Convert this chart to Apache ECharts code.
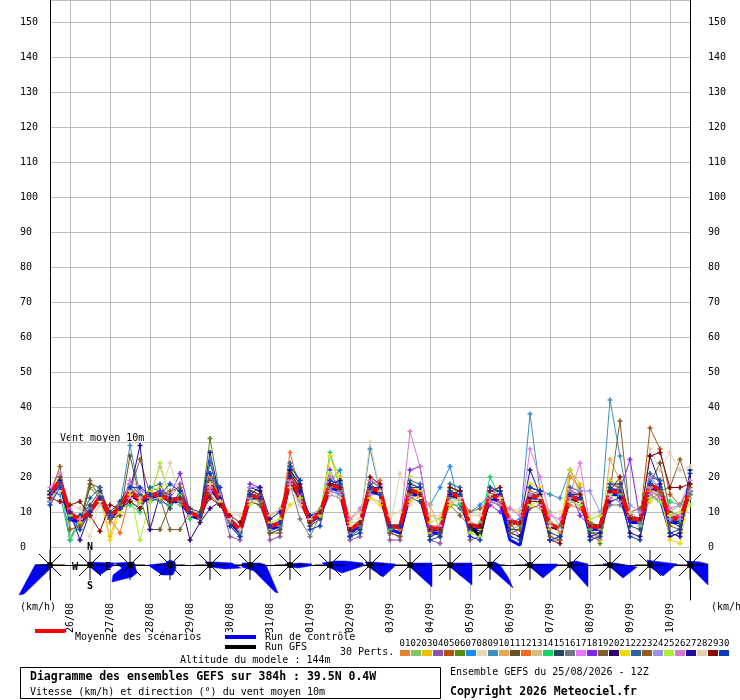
<!DOCTYPE html>
<html>
<head>
<meta charset="utf-8">
<title>Ensembles GEFS - vent moyen 10m</title>
<script src="https://cdn.jsdelivr.net/npm/echarts@6/dist/echarts.min.js"></script>
<style>
    html, body { margin: 0; padding: 0; background: #fff; }
    #main { width: 740px; height: 700px; }
</style>
</head>
<body>
<div id="main"></div>
<script>
// echeances toutes les 6h, du 25/08 12Z au 10/09 12Z
var hours = [];
for (var h = 0; h <= 384; h += 6) hours.push(h);

var dayLabels = ['26/08', '27/08', '28/08', '29/08', '30/08', '31/08', '01/09', '02/09',
    '03/09', '04/09', '05/09', '06/09', '07/09', '08/09', '09/09', '10/09'];

var pertColors = ['#e6822e', '#88c46a', '#f0c000', '#8e52aa', '#b4500a', '#5a8a0a', '#1e88f5', '#e8d8b4',
    '#3c90c0', '#e8a852', '#6a5020', '#f56a1e', '#d2c080', '#10d862', '#28465e', '#6e7880',
    '#e878f0', '#8024f0', '#806030', '#300070', '#f0d800', '#28649e', '#905a20', '#9c8ee8',
    '#a8f032', '#d878d0', '#200ca0', '#e0d0b0', '#880808', '#0a3cbe'];

// vitesse (km/h) des 30 perturbations
var p01 = [14,20,10,6,9,16,7,12, 17,15,13,16,12,15,11,9, 19,14,8,5,15,13,6,7, 21,15,8,10,18,17,5,7, 18,16,6,5,16,14,5,6, 16,15,7,6,14,13,8,7, 16,15,7,4,20,17,2,3, 19,17,9,8,17,15,9,9, 16];
var p02 = [16,18,3,6,11,15,9,10, 14,12,16,14,13,12,10,8, 17,12,8,4,16,15,5,6, 19,14,9,11,17,15,4,6, 16,15,5,6,17,16,6,4, 14,13,5,7,15,14,5,6, 13,14,10,6,13,12,7,5, 15,14,8,6,16,15,10,12, 14];
var p03 = [15,19,9,5,10,14,3,12, 15,14,16,17,14,13,10,9, 18,13,7,5,14,14,6,7, 18,14,6,9,26,20,4,7, 17,15,6,5,15,16,4,5, 16,14,6,5,14,13,7,6, 14,15,5,6,22,18,4,3, 16,16,8,7,18,17,7,9, 15];
var p04 = [13,18,10,8,11,15,9,11, 17,14,15,16,14,18,10,8, 19,14,3,2,16,15,2,3, 20,15,8,10,18,17,2,3, 17,15,2,2,16,15,2,1, 15,15,2,3,15,15,8,7, 15,14,2,2,15,14,3,2, 15,16,9,8,17,16,8,9, 16];
var p05 = [16,19,10,7,10,13,8,11, 16,12,14,15,13,14,10,9, 18,14,8,5,15,14,6,6, 20,14,7,10,17,18,5,6, 17,17,6,5,15,14,5,3, 14,15,4,6,15,13,6,7, 14,15,6,5,14,14,6,6, 17,15,9,8,34,28,15,12, 17];
var p06 = [15,19,9,7,17,14,8,12, 16,13,15,14,13,14,10,9, 31,15,8,5,15,14,6,7, 20,14,7,9,18,17,5,7, 17,16,5,6,16,15,5,5, 16,14,6,6,15,14,7,7, 14,14,6,5,14,13,6,1, 16,16,8,8,18,16,8,7, 16];
var p07 = [14,18,10,8,9,15,9,13, 17,14,15,15,13,13,9,9, 20,14,7,4,15,14,6,7, 21,15,7,10,19,22,5,6, 17,16,5,6,16,15,12,17, 23,11,10,12,15,13,7,8, 15,16,7,5,15,14,5,6, 16,17,8,8,19,17,8,9, 16];
var p08 = [14,17,8,7,3,13,9,10, 14,12,13,14,16,15,9,8, 17,13,10,9,14,13,9,10, 19,13,8,10,16,16,9,8, 17,15,9,10,15,14,9,9, 14,13,10,9,14,14,10,11, 13,13,9,10,13,12,9,10, 15,15,9,8,16,16,9,8, 15];
var p09 = [16,15,2,9,11,14,9,12, 29,15,14,13,12,14,10,8, 25,13,8,5,14,14,6,6, 19,14,8,9,18,16,5,7, 28,16,6,6,16,15,5,5, 14,14,6,6,14,15,7,7, 38,16,15,14,22,16,6,6, 42,26,10,8,17,16,9,8, 15];
var p10 = [15,19,9,8,10,14,9,11, 16,14,15,14,14,14,9,9, 18,13,8,5,15,14,6,7, 20,14,7,10,18,17,5,7, 17,15,6,6,16,15,12,5, 15,14,6,6,14,14,7,7, 14,14,7,6,14,13,5,2, 25,19,8,7,17,16,8,8, 16];
var p11 = [15,20,9,6,18,17,8,9, 26,14,5,5,12,14,10,8, 19,14,8,5,16,15,6,7, 20,15,7,10,18,17,5,6, 17,16,6,5,17,15,5,6, 15,14,6,6,15,14,7,7, 15,14,6,5,14,13,6,6, 16,16,8,8,18,24,10,9, 16];
var p12 = [15,19,10,8,10,14,8,4, 15,13,14,15,14,13,10,9, 20,15,8,5,15,14,6,7, 27,16,7,10,19,18,5,7, 18,19,6,5,16,15,6,6, 16,14,7,6,17,13,7,7, 15,14,6,6,12,11,6,6, 16,16,8,8,16,14,8,8, 16];
var p13 = [15,18,9,8,10,15,9,11, 16,13,15,23,14,13,10,9, 17,13,8,5,13,12,9,11, 20,14,8,9,17,16,8,10, 14,13,6,6,18,15,9,8, 15,14,7,6,15,14,11,10, 12,11,6,6,14,13,8,9, 14,16,9,8,17,16,9,8, 15];
var p14 = [15,19,2,7,10,14,9,11, 12,10,17,16,12,15,8,10, 18,13,7,4,15,14,6,6, 23,16,7,9,27,17,5,5, 17,16,5,6,16,15,5,5, 12,12,6,6,20,14,7,7, 15,14,6,5,14,13,5,6, 15,15,8,8,17,16,13,12, 15];
var p15 = [13,17,8,9,12,16,10,13, 18,15,13,14,11,16,11,10, 21,15,6,3,13,12,4,5, 22,16,6,8,16,15,3,5, 19,17,4,3,14,13,3,4, 17,16,5,4,13,12,5,5, 17,16,4,3,16,15,4,4, 18,18,6,5,20,19,7,6, 18];
var p16 = [14,18,9,8,10,14,8,11, 15,13,14,14,13,13,10,8, 17,12,7,4,15,13,6,6, 18,8,3,9,17,16,4,6, 16,15,6,6,15,15,5,5, 13,11,6,6,14,14,7,6, 17,16,6,5,14,13,6,6, 12,12,8,7,14,15,8,8, 15];
var p17 = [17,21,11,8,10,14,9,12, 14,16,15,15,14,14,10,9, 16,13,8,5,15,14,6,7, 18,15,7,10,18,17,5,7, 19,18,6,6,16,15,5,6, 15,14,6,6,15,14,8,7, 28,20,9,8,15,24,6,6, 16,17,9,8,20,17,9,9, 16];
var p18 = [14,18,9,8,10,14,9,11, 16,14,15,16,15,21,10,9, 18,14,8,5,18,17,6,7, 20,15,7,10,22,15,5,7, 17,16,6,6,22,23,6,5, 15,14,6,6,12,10,7,7, 14,14,6,5,16,9,6,6, 16,16,25,8,18,16,8,8, 16];
var p19 = [16,19,10,7,19,14,8,12, 16,13,15,14,5,5,10,9, 15,12,8,5,15,14,6,7, 17,14,7,10,18,17,5,7, 17,16,6,6,14,15,5,5, 12,9,6,6,15,14,7,3, 15,14,6,6,14,13,7,6, 16,36,9,8,18,16,17,25, 16];
var p20 = [15,19,9,8,10,14,9,11, 16,14,15,15,13,14,2,7, 11,13,8,5,17,16,6,7, 22,18,7,9,15,14,3,7, 17,15,6,6,16,15,5,5, 15,14,6,6,16,16,4,3, 14,14,6,5,14,13,6,6, 13,14,4,3,15,13,3,4, 16];
var p21 = [15,19,9,7,10,14,2,10, 15,13,15,14,13,14,10,9, 18,13,8,5,15,14,6,7, 12,14,7,9,26,18,5,7, 14,12,6,6,13,15,5,5, 12,14,6,6,15,14,7,7, 18,17,6,5,22,15,6,6, 19,16,8,8,13,16,2,1, 16];
var p22 = [16,18,9,8,14,17,9,11, 13,11,17,18,13,14,10,9, 24,14,8,5,15,14,6,7, 24,19,7,10,18,17,5,7, 18,16,6,6,19,18,5,5, 18,17,6,6,15,14,7,7, 17,16,6,5,17,16,6,6, 18,17,8,8,21,19,8,8, 16];
var p23 = [15,23,5,6,10,14,9,11, 16,25,15,15,16,17,10,9, 18,13,8,5,13,12,4,4, 20,14,7,10,18,17,5,7, 15,17,4,3,16,15,5,5, 15,14,10,11,13,12,4,5, 11,12,3,2,14,13,6,6, 16,16,10,11,18,16,6,5, 16];
var p24 = [13,17,10,8,10,14,9,11, 18,16,15,15,14,14,10,9, 16,14,8,5,17,17,6,7, 18,13,7,10,16,15,5,7, 15,15,6,6,14,15,5,5, 15,14,6,6,16,15,7,7, 15,14,6,5,14,16,16,10, 14,13,12,10,15,13,8,8, 16];
var p25 = [15,19,9,8,10,14,9,11, 16,2,13,24,14,14,10,9, 18,13,8,5,12,14,7,8, 20,14,7,10,21,19,7,7, 17,15,6,6,20,15,7,8, 17,15,4,3,15,14,7,7, 12,13,6,5,13,12,8,9, 16,16,8,8,14,13,9,10, 12];
var p26 = [15,17,10,8,10,14,9,11, 19,17,15,15,13,14,10,9, 17,15,8,5,15,14,6,7, 19,12,7,10,20,18,8,11, 17,15,6,6,33,23,5,5, 15,14,6,6,13,12,11,9, 15,12,6,5,16,14,6,6, 16,16,8,8,17,14,11,12, 19];
var p27 = [15,19,10,2,10,14,9,11, 16,29,5,15,14,14,10,9, 27,14,8,5,15,17,8,10, 20,16,9,10,18,19,5,7, 17,17,6,6,18,17,5,5, 15,16,6,6,15,15,7,7, 22,15,6,5,13,14,3,4, 16,14,8,8,26,18,4,3, 22];
var p28 = [14,16,12,11,8,12,9,11, 16,14,15,15,24,14,10,9, 18,13,8,5,13,14,6,7, 17,12,7,10,15,14,6,7, 30,16,6,21,12,15,5,5, 13,14,9,9,15,14,7,7, 13,14,6,5,13,13,6,6, 15,16,10,8,28,22,27,22, 23];
var p29 = [14,13,12,13,9,4.5,12,11, 13,11,15,15,13,14,10,9, 14,12,9,7,15,14,6,7, 21,17,7,10,18,17,5,7, 20,18,6,6,16,15,5,5, 17,16,6,6,16,17,7,7, 13,13,2,1,15,15,6,6, 16,20,8,8,26,27,17,17, 18];
var p30 = [12,17,8,5,10,14,9,11, 17,17,15,15,18,16,10,9, 21,17,6,3,15,14,6,7, 23,19,5,6,19,18,3,4, 17,15,6,6,17,17,2,3, 16,15,3,2,17,16,3,2, 17,16,2,3,15,14,2,3, 17,16,3,2,18,17,4,5, 21];

var perts = [p01, p02, p03, p04, p05, p06, p07, p08, p09, p10, p11, p12, p13, p14, p15,
    p16, p17, p18, p19, p20, p21, p22, p23, p24, p25, p26, p27, p28, p29, p30];

var controle = [15,18,8,7,10,14,8,11, 15,13,14,15,13,13,9,8, 17,13,7,4,14,14,5,6, 19,14,7,9,17,16,4,6, 16,15,5,4,15,15,4,4, 15,14,5,5,14,13,2,0.5, 14,14,6,5,14,13,5,5, 15,15,7,7,17,16,7,7, 16];
var gfs = [15,19,9,8,10,14,9,11, 16,13,15,15,13,14,10,8, 18,13,8,5,15,14,6,7, 19,14,7,10,18,17,5,7, 17,15,6,6,16,15,5,5, 15,14,6,3,15,14,7,7, 15,14,6,5,14,13,6,6, 16,16,8,8,18,16,8,8, 16];
var moyenne = [15.3,19,9.5,7.7,10,14.4,8.7,11.5, 15.8,13.4,14.9,15,13.4,13.8,9.7,8.7, 18.3,13.4,7.7,4.9,14.9,14,5.8,6.8,
    19.7,14.4,7.2,9.7,17.7,16.8,4.9,6.8, 17,15.8,5.8,5.8,16.3,15.3,5.3,5.3, 15.3,14.4,6.3,5.8,14.9,14,7.2,6.8,
    14.5,14.4,6.3,5.3,14.4,13.4,5.8,5.8, 15.8,15.8,8.2,7.7,17.7,16.3,8.2,8.2, 15.8];

// roses des vents a 12Z : sommets [u est, v nord] en km/h
var roseSteps = [0, 4, 8, 12, 16, 20, 24, 28, 32, 36, 40, 44, 48, 52, 56, 60, 64];
var roseShapes = [
    [[2,1],[-15,0],[-31,-30],[-26,-29],[2,-2]],
    [[-2,3],[25,2],[23,-1],[10,-10],[0,-2]],
    [[-15,2],[4,3],[7,-8],[2,-12],[-18,-17],[-17,-10],[-8,-3]],
    [[-22,0],[-5,2],[0,5],[5,3],[6,-3],[3,-10],[-8,-10]],
    [[-5,3],[5,3],[22,2],[31,-3],[15,-4],[0,-2]],
    [[-8,2],[10,2],[16,0],[28,-28],[25,-27],[4,-6],[-8,-2]],
    [[-5,1],[10,2],[22,1],[20,-1],[8,-3],[0,-2]],
    [[-8,2],[5,4],[15,4],[33,2],[33,-1],[12,-8],[0,-3]],
    [[-5,3],[3,3],[25,1],[25,-1],[13,-12],[0,-3]],
    [[0,2],[22,2],[22,-22],[0,-2]],
    [[0,2],[22,2],[22,-20],[0,-2]],
    [[-2,3],[5,3],[10,0],[18,-12],[23,-23],[0,-3]],
    [[-5,1],[27,1],[27,-1],[13,-13],[0,-2]],
    [[0,3],[6,4],[18,1],[18,-22],[0,-2]],
    [[-7,1],[5,2],[27,-2],[13,-13],[0,-2]],
    [[-3,5],[3,4],[27,1],[13,-11],[0,-2]],
    [[-3,4],[10,3],[18,1],[18,-20],[0,-2]]
];

var FONT = '"DejaVu Sans Mono", monospace';
var GRID_COLOR = '#bdbdbd';
var plusSymbol = 'path://M1,0h1v1h1v1h-1v1h-1v-1h-1v-1h1z';

var myChart = echarts.init(document.getElementById('main'), null, { renderer: 'canvas' });

function dayTick(index) {
    return index % 4 === 2;
}

var series = [];
perts.forEach(function (p, k) {
    series.push({
        name: 'P' + (k + 1),
        type: 'line',
        xAxisIndex: 0,
        yAxisIndex: 0,
        data: p,
        symbol: plusSymbol,
        symbolSize: 5,
        showAllSymbol: true,
        silent: true,
        lineStyle: { color: pertColors[k], width: 1 },
        itemStyle: { color: pertColors[k] }
    });
});
series.push({
    name: 'Run de contrôle', type: 'line', data: controle, symbol: 'none', silent: true,
    lineStyle: { color: '#0000ff', width: 3 }
});
series.push({
    name: 'Run GFS', type: 'line', data: gfs, symbol: 'none', silent: true,
    lineStyle: { color: '#000000', width: 3 }
});
series.push({
    name: 'Moyenne des scénarios', type: 'line', data: moyenne, symbol: 'none', silent: true,
    lineStyle: { color: '#ff0000', width: 4 }
});

// roses des vents dans le bandeau du bas
series.push({
    type: 'custom',
    xAxisIndex: 1,
    yAxisIndex: 2,
    silent: true,
    clip: false,
    data: roseSteps.map(function (s) { return [s, 0]; }),
    renderItem: function (params, api) {
        var c = api.coord([api.value(0), 0]);
        var k = api.size([0, 1])[1];
        var shape = roseShapes[params.dataIndex];
        var pts = shape.map(function (p) { return [c[0] + p[0] * k, c[1] - p[1] * k]; });
        var children = [{
            type: 'polygon',
            shape: { points: pts },
            style: { fill: '#0000ff', stroke: '#0000ff', lineWidth: 0.5 }
        }];
        var r = 15, d = 11;
        var spokes = [[-r, 0, r, 0], [0, -r, 0, r], [-d, -d, d, d], [-d, d, d, -d]];
        spokes.forEach(function (s) {
            children.push({
                type: 'line',
                shape: { x1: c[0] + s[0], y1: c[1] + s[1], x2: c[0] + s[2], y2: c[1] + s[3] },
                style: { stroke: '#000', lineWidth: 1 }
            });
        });
        children.push({
            type: 'circle',
            shape: { cx: c[0], cy: c[1], r: 3 },
            style: { fill: '#000' }
        });
        if (params.dataIndex === 1) {
            var letters = [['N', 0, -18], ['S', 0, 21], ['W', -15, 2], ['E', 18, 2]];
            letters.forEach(function (l) {
                children.push({
                    type: 'text',
                    style: {
                        text: l[0], x: c[0] + l[1], y: c[1] + l[2],
                        font: 'bold 10px ' + FONT, fill: '#000',
                        align: 'center', verticalAlign: 'middle',
                        textAlign: 'center', textVerticalAlign: 'middle'
                    }
                });
            });
        }
        return { type: 'group', children: children };
    }
});

function txt(x, y, text, font, align) {
    return {
        type: 'text',
        silent: true,
        style: {
            text: text, x: x, y: y, font: font, fill: '#000',
            align: align || 'left', verticalAlign: 'middle',
            textAlign: align || 'left', textVerticalAlign: 'middle'
        }
    };
}

var graphics = [
    txt(60, 438, 'Vent moyen 10m', '10px ' + FONT),
    txt(20, 607, '(km/h)', '10px ' + FONT),
    txt(711, 607, '(km/h)', '10px ' + FONT),
    { type: 'rect', silent: true, shape: { x: 35, y: 629, width: 30, height: 4 }, style: { fill: '#ff0000' } },
    txt(75, 637, 'Moyenne des scénarios', '10px ' + FONT),
    { type: 'rect', silent: true, shape: { x: 225, y: 635, width: 31, height: 4 }, style: { fill: '#0000ff' } },
    txt(265, 637, 'Run de contrôle', '10px ' + FONT),
    { type: 'rect', silent: true, shape: { x: 225, y: 645, width: 31, height: 4 }, style: { fill: '#000000' } },
    txt(265, 647, 'Run GFS', '10px ' + FONT),
    txt(340, 652, '30 Perts.', '10px ' + FONT),
    txt(180, 660, 'Altitude du modele : 144m', '10px ' + FONT),
    { type: 'rect', silent: true, shape: { x: 20.5, y: 667.5, width: 420, height: 31 },
        style: { fill: 'none', stroke: '#000', lineWidth: 1 } },
    txt(30, 677, 'Diagramme des ensembles GEFS sur 384h : 39.5N 0.4W', 'bold 11.5px ' + FONT),
    txt(30, 692, 'Vitesse (km/h) et direction (°) du vent moyen 10m', '10px ' + FONT),
    txt(450, 672, 'Ensemble GEFS du 25/08/2026 - 12Z', '10px ' + FONT),
    txt(450, 692, 'Copyright 2026 Meteociel.fr', 'bold 11.5px ' + FONT)
];
pertColors.forEach(function (col, k) {
    var x = 400 + 11 * k;
    graphics.push({ type: 'rect', silent: true, shape: { x: x, y: 650, width: 10, height: 6 }, style: { fill: col } });
    graphics.push(txt(x + 5, 644, (k < 9 ? '0' : '') + (k + 1), '9px ' + FONT, 'center'));
});

var yMax = 547 / 3.5;

var option = {
    animation: false,
    backgroundColor: '#ffffff',
    textStyle: { fontFamily: FONT },
    grid: [
        { left: 50, top: 0, width: 640, height: 547 },
        { left: 50, top: 547, width: 640, height: 53 }
    ],
    xAxis: [
        {
            type: 'category', gridIndex: 0, data: hours, boundaryGap: false,
            axisLine: { show: false }, axisTick: { show: false }, axisLabel: { show: false },
            splitLine: { show: true, interval: dayTick, lineStyle: { color: GRID_COLOR, width: 1 } }
        },
        {
            type: 'category', gridIndex: 1, data: hours, boundaryGap: false,
            axisLine: { show: true, lineStyle: { color: '#000', width: 1 } },
            axisTick: { show: false },
            axisLabel: {
                interval: dayTick, rotate: 90, margin: 3, color: '#000',
                fontFamily: FONT, fontSize: 10,
                formatter: function (v, idx) { return dayLabels[(idx - 2) / 4] || ''; }
            },
            splitLine: { show: true, interval: dayTick, lineStyle: { color: GRID_COLOR, width: 1 } }
        }
    ],
    yAxis: [
        {
            type: 'value', gridIndex: 0, position: 'left', min: 0, max: yMax, interval: 10,
            axisLine: { show: true, lineStyle: { color: '#000', width: 1 } },
            axisTick: { show: false },
            splitLine: { show: true, lineStyle: { color: GRID_COLOR, width: 1 } },
            axisLabel: {
                align: 'left', margin: 30, color: '#000', fontFamily: FONT, fontSize: 10,
                formatter: function (v) { return (v % 10 === 0 && v <= 150) ? String(v) : ''; }
            }
        },
        {
            type: 'value', gridIndex: 0, position: 'right', min: 0, max: yMax, interval: 10,
            axisLine: { show: true, lineStyle: { color: '#000', width: 1 } },
            axisTick: { show: false },
            splitLine: { show: false },
            axisLabel: {
                align: 'left', margin: 18, color: '#000', fontFamily: FONT, fontSize: 10,
                formatter: function (v) { return (v % 10 === 0 && v <= 150) ? String(v) : ''; }
            }
        },
        {
            type: 'value', gridIndex: 1, position: 'left', min: -35, max: 18,
            axisLine: { show: true, lineStyle: { color: '#000', width: 1 } },
            axisTick: { show: false }, axisLabel: { show: false }, splitLine: { show: false }
        },
        {
            type: 'value', gridIndex: 1, position: 'right', min: -35, max: 18,
            axisLine: { show: true, lineStyle: { color: '#000', width: 1 } },
            axisTick: { show: false }, axisLabel: { show: false }, splitLine: { show: false }
        }
    ],
    graphic: graphics,
    series: series
};

myChart.setOption(option);
</script>
</body>
</html>
